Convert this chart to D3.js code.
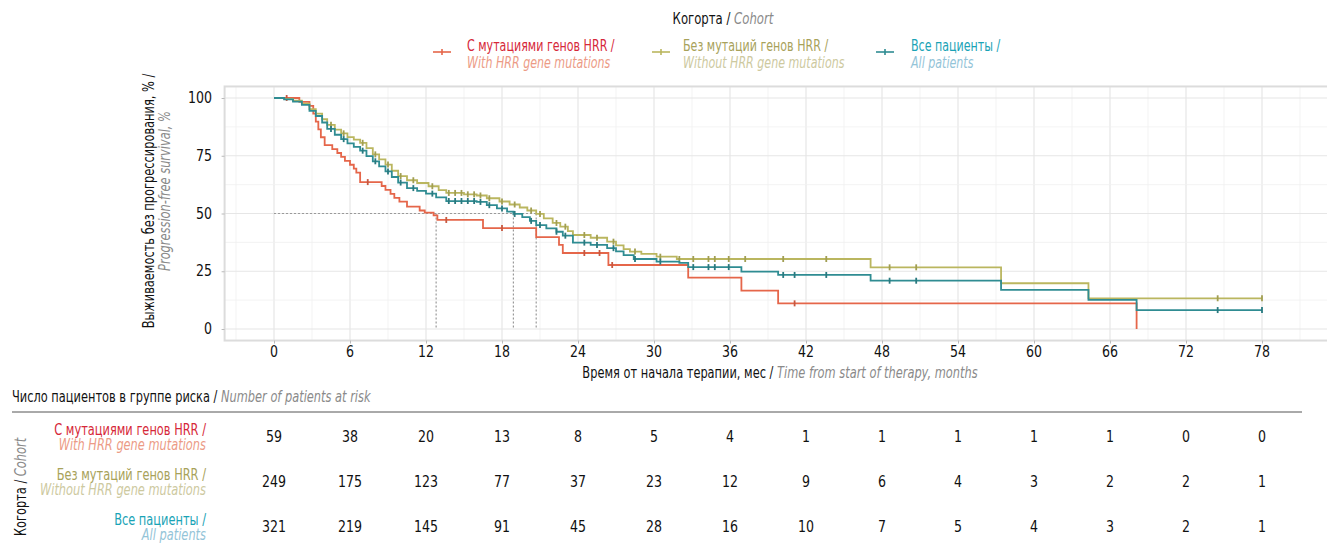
<!DOCTYPE html>
<html>
<head>
<meta charset="utf-8">
<script src="https://cdn.jsdelivr.net/npm/d3@7"></script>
<style>
  body { margin: 0; background: #fff; }
  text { font-family: 'Liberation Sans Narrow', 'DejaVu Sans', sans-serif; }
</style>
</head>
<body>
<div id="chart"></div>
<script>
// --- data ---
var monthTicks = [0, 6, 12, 18, 24, 30, 36, 42, 48, 54, 60, 66, 72, 78]
var survTicks = [0, 25, 50, 75, 100]

// with HRR gene mutations
var hrrTime = [0, 2.0, 2.8, 3.1, 3.3, 3.5, 3.7, 4.0, 4.6, 5.0, 5.3, 5.6, 6.0, 6.3, 6.5, 6.8, 8.5, 8.8, 9.2, 9.5, 9.9, 10.5, 11.5, 11.9, 12.6, 12.9, 16.5, 20.7, 22.5, 22.8, 26.4, 32.7, 36.9, 39.8, 68.1]
var hrrSurv = [100, 98.3, 96.6, 93.2, 89.8, 86.4, 83.0, 79.6, 77.9, 76.2, 74.5, 72.8, 71.1, 69.4, 67.7, 63.6, 61.9, 60.2, 58.5, 56.8, 55.1, 53.0, 51.3, 50.4, 49.2, 47.2, 43.7, 39.8, 36.4, 32.9, 27.7, 22.2, 16.6, 11.1, 0]
var hrrCens = [1.0, 7.4, 13.6, 18.0, 24.5, 25.7, 26.7, 41.1]

// without HRR gene mutations
var noHrrTime = [0, 0.8, 1.5, 2.2, 2.8, 3.3, 3.8, 4.2, 4.8, 5.3, 5.8, 6.3, 6.8, 7.3, 7.8, 8.3, 8.8, 9.3, 9.8, 10.5, 11.3, 12.2, 13.0, 13.6, 15.0, 16.0, 16.8, 17.8, 18.6, 19.4, 20.0, 20.7, 21.3, 22.0, 22.6, 23.2, 23.6, 25.0, 26.3, 27.0, 27.6, 28.1, 29.0, 30.2, 31.8, 47.1, 57.4, 64.3]
var noHrrSurv = [100, 99.6, 98.8, 97.6, 95.2, 93.2, 90.8, 88.4, 86.3, 84.7, 83.1, 82.0, 80.6, 78.3, 75.6, 73.4, 71.2, 68.5, 66.2, 64.4, 63.2, 61.8, 60.1, 58.9, 58.3, 57.8, 56.6, 55.2, 53.9, 52.6, 51.3, 49.8, 47.9, 45.9, 44.3, 42.4, 40.7, 39.5, 37.8, 36.2, 34.6, 33.5, 32.5, 31.3, 30.3, 26.7, 19.8, 13.3]
var noHrrCens = [4.5, 5.5, 7.0, 8.0, 9.0, 10.0, 11.0, 12.5, 13.8, 14.3, 14.8, 15.3, 15.8, 16.3, 17.0, 18.0, 19.0, 20.3, 21.0, 22.3, 23.0, 24.5, 25.5, 26.8, 28.5, 30.5, 32.0, 33.1, 34.3, 34.8, 35.9, 37.2, 40.2, 43.6, 48.6, 50.7, 74.5, 78]

// all patients
var allTime = [0, 0.8, 1.5, 2.2, 2.8, 3.3, 3.8, 4.2, 4.8, 5.3, 5.8, 6.3, 6.8, 7.3, 7.8, 8.3, 8.8, 9.3, 9.8, 10.5, 11.3, 12.0, 12.8, 13.6, 16.0, 16.8, 17.6, 18.4, 18.9, 19.6, 20.2, 20.7, 21.5, 22.3, 22.8, 23.6, 25.0, 26.3, 27.0, 27.6, 28.4, 30.2, 32.0, 32.7, 36.9, 39.8, 47.1, 57.4, 64.3, 68.1]
var allSurv = [100, 99.4, 98.4, 97.0, 94.4, 92.2, 89.4, 86.6, 84.1, 82.2, 80.4, 78.8, 77.2, 74.8, 72.6, 70.4, 68.2, 65.8, 63.4, 61.0, 59.8, 58.6, 57.0, 55.4, 55.0, 53.6, 52.2, 50.8, 49.8, 48.4, 46.8, 45.0, 43.6, 42.1, 40.4, 37.4, 36.4, 35.0, 33.6, 32.0, 30.3, 29.2, 28.6, 26.8, 24.8, 23.4, 20.9, 16.9, 12.6, 8.2]
var allCens = [4.5, 5.5, 7.0, 8.0, 9.0, 10.0, 11.0, 12.5, 13.8, 14.3, 14.8, 15.3, 15.8, 16.3, 17.0, 18.0, 19.0, 20.3, 21.0, 22.3, 23.0, 24.5, 25.5, 26.8, 28.5, 30.5, 33.1, 34.3, 34.8, 35.9, 40.2, 41.1, 43.6, 48.6, 50.7, 74.5, 78]

var medians = [12.8, 18.9, 20.7]

var riskHrr = [59, 38, 20, 13, 8, 5, 4, 1, 1, 1, 1, 1, 0, 0]
var riskNoHrr = [249, 175, 123, 77, 37, 23, 12, 9, 6, 4, 3, 2, 2, 1]
var riskAll = [321, 219, 145, 91, 45, 28, 16, 10, 7, 5, 4, 3, 2, 1]

var groups = [
  {ru: "С мутациями генов HRR /", en: "With HRR gene mutations", line: "#e5664a", ruCol: "#d62839", enCol: "#ec9b86",
   time: hrrTime, surv: hrrSurv, cens: hrrCens, risk: riskHrr, end: 68.1},
  {ru: "Без мутаций генов HRR /", en: "Without HRR gene mutations", line: "#bab65f", ruCol: "#a8a25a", enCol: "#cdc9a0",
   time: noHrrTime, surv: noHrrSurv, cens: noHrrCens, risk: riskNoHrr, end: 78},
  {ru: "Все пациенты /", en: "All patients", line: "#2f8c92", ruCol: "#1aa3b6", enCol: "#94c4d8",
   time: allTime, surv: allSurv, cens: allCens, risk: riskAll, end: 78}
]

var width = 1327, height = 543
// squeeze text, the original uses a condensed face
var SX = 0.76, SX_NUM = 0.84, SX_LEG = 0.715

var svg = d3.select("#chart").append("svg")
  .attr("width", width).attr("height", height)

// text helper: squeezed horizontally, optional rotation
function txt(parent, x, y, size, anchor, rot, sx) {
  return parent.append("text")
    .attr("transform", "translate(" + x + "," + y + ")" + (rot ? " rotate(" + rot + ")" : "") + " scale(" + (sx || SX) + ",1)")
    .attr("text-anchor", anchor || "start")
    .style("font-size", size + "px")
}

var xScale = d3.scaleLinear().domain([0, 78]).range([274, 1262])
var yScale = d3.scaleLinear().domain([0, 100]).range([329, 98])

var panel = {x0: xScale(-3.9), x1: xScale(86), y0: yScale(105), y1: yScale(-5)}

// grid
var grid = svg.append("g")
d3.range(-3, 86, 3).forEach(function(m) {
  grid.append("line")
    .attr("x1", xScale(m)).attr("x2", xScale(m))
    .attr("y1", panel.y0).attr("y2", panel.y1)
    .attr("stroke", m % 6 == 0 ? "#e6e6e6" : "#f0f0f0")
    .attr("stroke-width", m % 6 == 0 ? 1.2 : 0.8)
})
d3.range(0, 101, 12.5).forEach(function(s) {
  grid.append("line")
    .attr("x1", panel.x0).attr("x2", panel.x1)
    .attr("y1", yScale(s)).attr("y2", yScale(s))
    .attr("stroke", s % 25 == 0 ? "#e6e6e6" : "#f0f0f0")
    .attr("stroke-width", s % 25 == 0 ? 1.2 : 0.8)
})
svg.append("rect")
  .attr("x", panel.x0).attr("y", panel.y0)
  .attr("width", panel.x1 - panel.x0).attr("height", panel.y1 - panel.y0)
  .attr("fill", "none").attr("stroke", "#dcdcdc").attr("stroke-width", 2)

// axes (ticks from d3, labels squeezed by hand)
var yAxis = svg.append("g").attr("transform", "translate(" + panel.x0 + ",0)")
  .call(d3.axisLeft(yScale).tickValues(survTicks).tickSize(3).tickFormat(""))
var xAxis = svg.append("g").attr("transform", "translate(0," + panel.y1 + ")")
  .call(d3.axisBottom(xScale).tickValues(monthTicks).tickSize(3).tickFormat(""))
;[yAxis, xAxis].forEach(function(ax) {
  ax.select(".domain").remove()
  ax.selectAll(".tick line").attr("stroke", "#bbb")
})
survTicks.forEach(function(s) {
  txt(svg, 212, yScale(s) + 5, 15, "end", 0, SX_NUM).attr("fill", "#111").text(s)
})
monthTicks.forEach(function(m) {
  txt(svg, xScale(m), 357, 15, "middle", 0, SX_NUM).attr("fill", "#111").text(m)
})

// median lines
var medG = svg.append("g").attr("stroke", "#9a9a9a").attr("stroke-width", 1.2).attr("stroke-dasharray", "2,2")
medG.append("line")
  .attr("x1", xScale(0)).attr("x2", xScale(d3.max(medians)))
  .attr("y1", yScale(50)).attr("y2", yScale(50))
medians.forEach(function(m) {
  medG.append("line")
    .attr("x1", xScale(m)).attr("x2", xScale(m))
    .attr("y1", yScale(50)).attr("y2", yScale(0))
})

// survival curves
function survAt(g, t) {
  var i = d3.bisectRight(g.time, t) - 1
  return g.surv[Math.max(i, 0)]
}
var line = d3.line().curve(d3.curveStepAfter)
  .x(function(d) { return xScale(d[0]) })
  .y(function(d) { return yScale(d[1]) })

groups.forEach(function(g) {
  var pts = g.time.map(function(t, i) { return [t, g.surv[i]] })
  if (g.end > g.time[g.time.length - 1]) pts.push([g.end, g.surv[g.surv.length - 1]])
  svg.append("path")
    .attr("d", line(pts))
    .attr("fill", "none")
    .attr("stroke", g.line)
    .attr("stroke-width", 1.8)
  svg.selectAll(null).data(g.cens).enter().append("line")
    .attr("x1", function(t) { return xScale(t) }).attr("x2", function(t) { return xScale(t) })
    .attr("y1", function(t) { return yScale(survAt(g, t)) - 3 })
    .attr("y2", function(t) { return yScale(survAt(g, t)) + 3 })
    .attr("stroke", d3.color(g.line).darker(0.4))
    .attr("stroke-width", 1.8)
})

// y title
txt(svg, 154, 201, 15, "middle", -90).attr("fill", "#111")
  .text("Выживаемость без прогрессирования, % /")
txt(svg, 170, 191, 15, "middle", -90).attr("fill", "#8a8a8a").style("font-style", "italic")
  .text("Progression-free survival, %")

// x title
var xt = txt(svg, 780, 378, 15, "middle")
xt.append("tspan").attr("fill", "#111").text("Время от начала терапии, мес / ")
xt.append("tspan").attr("fill", "#8a8a8a").style("font-style", "italic").text("Time from start of therapy, months")

// legend
var lt = txt(svg, 723, 24, 15, "middle", 0, 0.78)
lt.append("tspan").attr("fill", "#111").text("Когорта / ")
lt.append("tspan").attr("fill", "#8a8a8a").style("font-style", "italic").text("Cohort")

var legendX = [{key: 433, text: 467}, {key: 652, text: 683}, {key: 876, text: 911}]
groups.forEach(function(g, i) {
  var lg = svg.append("g")
  lg.append("line").attr("x1", legendX[i].key).attr("x2", legendX[i].key + 18)
    .attr("y1", 52).attr("y2", 52).attr("stroke", g.line).attr("stroke-width", 1.6)
  lg.append("line").attr("x1", legendX[i].key + 9).attr("x2", legendX[i].key + 9)
    .attr("y1", 49).attr("y2", 55).attr("stroke", g.line).attr("stroke-width", 1.6)
  txt(lg, legendX[i].text, 51, 15.5, "start", 0, SX_LEG).attr("fill", g.ruCol).text(g.ru)
  txt(lg, legendX[i].text, 68, 15.5, "start", 0, SX_LEG).style("font-style", "italic").attr("fill", g.enCol).text(g.en)
})

// risk table
var rt = txt(svg, 12, 402, 15, "start")
rt.append("tspan").attr("fill", "#111").text("Число пациентов в группе риска / ")
rt.append("tspan").attr("fill", "#8a8a8a").style("font-style", "italic").text("Number of patients at risk")
svg.append("line").attr("x1", 12).attr("x2", 1302).attr("y1", 412).attr("y2", 412)
  .attr("stroke", "#555").attr("stroke-width", 1)

var ct = txt(svg, 26, 487, 15, "middle", -90)
ct.append("tspan").attr("fill", "#111").text("Когорта / ")
ct.append("tspan").attr("fill", "#8a8a8a").style("font-style", "italic").text("Cohort")

var rowY = [437, 482, 527]
groups.forEach(function(g, i) {
  txt(svg, 206, rowY[i] - 2, 15, "end").attr("fill", g.ruCol).text(g.ru)
  txt(svg, 206, rowY[i] + 13, 15, "end").style("font-style", "italic").attr("fill", g.enCol).text(g.en)
  g.risk.forEach(function(d, j) {
    txt(svg, xScale(monthTicks[j]), rowY[i] + 5, 15, "middle", 0, SX_NUM).attr("fill", "#111").text(d)
  })
})
</script>
</body>
</html>
